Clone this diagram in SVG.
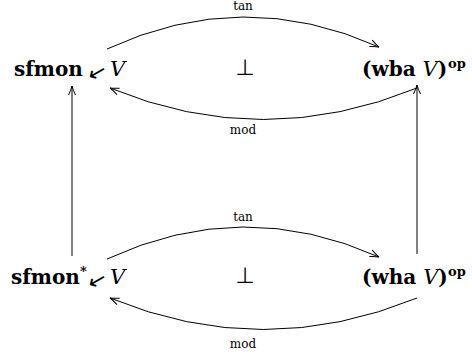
<svg xmlns="http://www.w3.org/2000/svg" width="472" height="358" viewBox="0 0 472 358">
<style>
.obj{font-family:"DejaVu Serif","Liberation Serif",serif;font-weight:bold;font-size:20px;fill:#000}
.cal{font-family:"DejaVu Serif","Liberation Serif",serif;font-style:italic;font-weight:normal;font-size:21px;fill:#000}
.sup{font-family:"DejaVu Serif","Liberation Serif",serif;font-weight:bold;font-size:13px;fill:#000}
.sym{font-family:"DejaVu Sans","Liberation Serif",serif;font-size:22px;fill:#000}
.lbl{font-family:"DejaVu Serif","Liberation Serif",serif;font-size:12px;fill:#000;text-anchor:middle}
.ed{fill:none;stroke:#000;stroke-width:1}
</style>
<defs>
<marker id="ah" viewBox="-10 -5 12 10" refX="0" refY="0" markerWidth="12" markerHeight="10" markerUnits="userSpaceOnUse" orient="auto">
<path d="M-9,-3.5 Q-4,-1 0,0 Q-4,1 -9,3.5" fill="none" stroke="#000" stroke-width="1"/>
</marker>
</defs>
<rect width="472" height="358" fill="#fff"/>
<g id="edges">
<path class="ed" d="M107,49 Q243,-14 379,47" marker-end="url(#ah)"/>
<path class="ed" d="M417,88 Q263,151 110,88" marker-end="url(#ah)"/>
<path class="ed" d="M107,259 Q243,196 379,257" marker-end="url(#ah)"/>
<path class="ed" d="M417,298 Q263,361 110,298" marker-end="url(#ah)"/>
<path class="ed" d="M72,256 L72,86" marker-end="url(#ah)"/>
<path class="ed" d="M417,254 L417,85" marker-end="url(#ah)"/>
<text class="lbl" x="243" y="10">tan</text>
<text class="lbl" x="243" y="134">mod</text>
<text class="lbl" x="243" y="221">tan</text>
<text class="lbl" x="243" y="348">mod</text>
</g>
<g id="n1"><text class="obj" x="14" y="76">sfmon</text><text class="sym" x="88" y="79" transform="rotate(15 96 72)">↙</text><text class="cal" x="110" y="76">V</text></g>
<g id="n2"><text class="obj" x="362" y="76">(wba <tspan class="cal">V</tspan>)</text><text class="sup" x="448" y="68">op</text></g>
<g id="n3"><text class="obj" x="11" y="284">sfmon<tspan class="sup" dy="-8" font-size="11">*</tspan></text><text class="sym" x="88" y="287" transform="rotate(15 96 280)">↙</text><text class="cal" x="110" y="284">V</text></g>
<g id="n4"><text class="obj" x="362" y="284">(wha <tspan class="cal">V</tspan>)</text><text class="sup" x="448" y="276">op</text></g>
<g id="perp1"><text class="sym" x="245" y="75" text-anchor="middle">⊥</text></g>
<g id="perp2"><text class="sym" x="245" y="283" text-anchor="middle">⊥</text></g>
</svg>
